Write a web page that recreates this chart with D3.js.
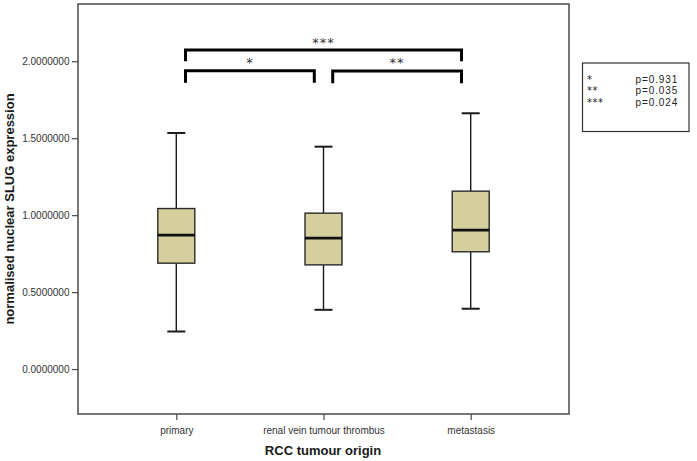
<!DOCTYPE html>
<html><head><meta charset="utf-8">
<script src="https://cdn.jsdelivr.net/npm/d3@7"></script>
<style>body{margin:0;background:#fff;}svg{display:block;}</style>
</head><body>
<svg id="chart" width="697" height="461"></svg>
<script>
const categories = ["primary", "renal vein tumour thrombus", "metastasis"];
const whiskerLow  = [0.244, 0.385, 0.392];
const q1          = [0.688, 0.677, 0.762];
const medians     = [0.870, 0.851, 0.903];
const q3          = [1.043, 1.013, 1.156];
const whiskerHigh = [1.534, 1.445, 1.662];
const yTicks = [0, 0.5, 1.0, 1.5, 2.0];
const bracketFrom  = [0, 1, 0];
const bracketTo    = [1, 2, 2];
const bracketTop   = [1.939, 1.937, 2.073];
const bracketFoot  = [1.861, 1.857, 2.000];
const bracketLabel = ["*", "**", "***"];
const legendStars  = ["*", "**", "***"];
const legendP      = ["p=0.931", "p=0.035", "p=0.024"];

const svg = d3.select("#chart");
const frame = {left: 78, right: 569, top: 4, bottom: 414};

const y = d3.scaleLinear().domain([-0.292, 2.372]).range([frame.bottom, frame.top]);
const x = d3.scalePoint().domain(categories).range([176.3, 470.7]);

// frame
svg.append("rect").attr("x", frame.left).attr("y", frame.top)
  .attr("width", frame.right - frame.left).attr("height", frame.bottom - frame.top)
  .attr("fill", "none").attr("stroke", "#4a4a4a").attr("stroke-width", 1.5);

// y axis
const yAxis = svg.append("g").attr("transform", `translate(${frame.left},0)`)
  .call(d3.axisLeft(y).tickValues(yTicks).tickSize(6).tickFormat(d3.format(".7f")));
yAxis.select(".domain").remove();
yAxis.selectAll("line").attr("stroke", "#4a4a4a").attr("stroke-width", 1.2);
yAxis.selectAll("text").attr("font-family", "Liberation Sans, Arial, sans-serif")
  .attr("font-size", 10).attr("fill", "#333").attr("dx", 0.5);

// x axis
const xAxis = svg.append("g").attr("transform", `translate(0,${frame.bottom})`)
  .call(d3.axisBottom(x).tickSize(6));
xAxis.select(".domain").remove();
xAxis.selectAll("line").attr("stroke", "#4a4a4a").attr("stroke-width", 1.2);
xAxis.selectAll("text").attr("font-family", "Liberation Sans, Arial, sans-serif")
  .attr("font-size", 10).attr("fill", "#333").attr("dy", "1.05em");

// axis titles
svg.append("text").attr("transform", "translate(14,209) rotate(-90)")
  .attr("text-anchor", "middle").attr("font-family", "Liberation Sans, Arial, sans-serif")
  .attr("font-weight", "bold").attr("font-size", 13).attr("fill", "#1a1a1a")
  .text("normalised nuclear SLUG expression");
svg.append("text").attr("x", 323).attr("y", 455)
  .attr("text-anchor", "middle").attr("font-family", "Liberation Sans, Arial, sans-serif")
  .attr("font-weight", "bold").attr("font-size", 13).attr("fill", "#1a1a1a")
  .text("RCC tumour origin");

// boxes
const boxW = 37, capW = 18;
const g = svg.append("g");
categories.forEach((c, i) => {
  const cx = x(c);
  g.append("line").attr("x1", cx).attr("x2", cx).attr("y1", y(whiskerHigh[i])).attr("y2", y(q3[i]))
    .attr("stroke", "#1a1a1a").attr("stroke-width", 1.4);
  g.append("line").attr("x1", cx).attr("x2", cx).attr("y1", y(q1[i])).attr("y2", y(whiskerLow[i]))
    .attr("stroke", "#1a1a1a").attr("stroke-width", 1.4);
  [whiskerHigh[i], whiskerLow[i]].forEach(v => {
    g.append("line").attr("x1", cx - capW/2).attr("x2", cx + capW/2).attr("y1", y(v)).attr("y2", y(v))
      .attr("stroke", "#1a1a1a").attr("stroke-width", 2);
  });
  g.append("rect").attr("x", cx - boxW/2).attr("y", y(q3[i]))
    .attr("width", boxW).attr("height", y(q1[i]) - y(q3[i]))
    .attr("fill", "#d4cf9c").attr("stroke", "#2a2a2a").attr("stroke-width", 1.4);
  g.append("line").attr("x1", cx - boxW/2).attr("x2", cx + boxW/2).attr("y1", y(medians[i])).attr("y2", y(medians[i]))
    .attr("stroke", "#111").attr("stroke-width", 2.6);
});

// significance brackets
const inset = 9.2;
bracketFrom.forEach((f, i) => {
  const x1 = x(categories[f]) + inset, x2 = x(categories[bracketTo[i]]) - inset;
  const yt = y(bracketTop[i]), yf = y(bracketFoot[i]);
  svg.append("path").attr("d", `M${x1},${yf}V${yt}H${x2}V${yf}`)
    .attr("fill", "none").attr("stroke", "#000").attr("stroke-width", 3);
  svg.append("text").attr("x", (x1 + x2) / 2).attr("y", yt - 3.5)
    .attr("text-anchor", "middle").attr("font-family", "DejaVu Sans, sans-serif")
    .attr("font-size", 13).attr("fill", "#333").attr("letter-spacing", 1)
    .text(bracketLabel[i]);
});

// legend
const lg = svg.append("g");
lg.append("rect").attr("x", 582.5).attr("y", 63).attr("width", 106.5).attr("height", 68.5)
  .attr("fill", "#fff").attr("stroke", "#333").attr("stroke-width", 1.2);
legendStars.forEach((s, i) => {
  lg.append("text").attr("x", 587).attr("y", 82.5 + i * 11.5)
    .attr("font-family", "DejaVu Sans, sans-serif").attr("font-size", 10).attr("fill", "#222")
    .attr("letter-spacing", 0.5).text(s);
  lg.append("text").attr("x", 635.5).attr("y", 82.5 + i * 11.5)
    .attr("font-family", "Liberation Sans, Arial, sans-serif").attr("font-size", 10).attr("fill", "#222")
    .attr("letter-spacing", 0.9)
    .text(legendP[i]);
});
</script>
</body></html>
